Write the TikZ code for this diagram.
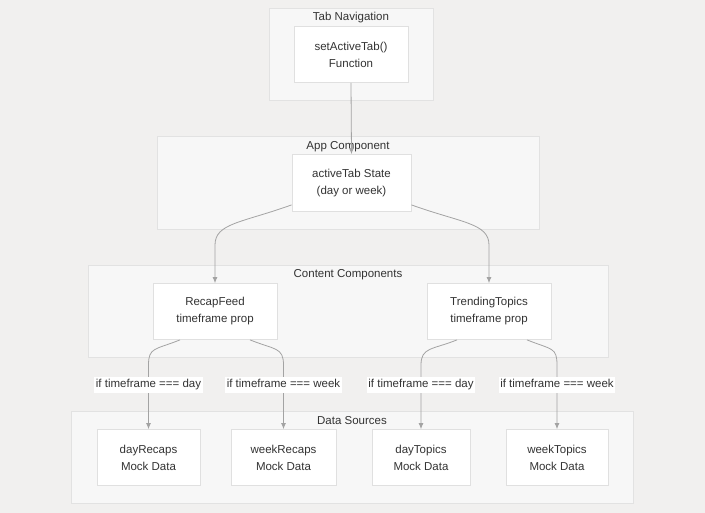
\documentclass[tikz,border=0pt]{standalone}
\usepackage{fontspec}
\setmainfont{Liberation Sans}
\usetikzlibrary{arrows.meta,calc}
\definecolor{bgcol}{HTML}{F1F0EF}
\definecolor{grpfill}{HTML}{F7F7F7}
\definecolor{grpline}{HTML}{E2E2E2}
\definecolor{boxline}{HTML}{E0E0E0}
\definecolor{edgecol}{HTML}{A3A3A3}
\definecolor{txt}{HTML}{333333}

\begin{document}
\begin{tikzpicture}[x=1pt,y=-1pt,
	font=\fontsize{11.5}{17}\selectfont,
	box/.style={draw=boxline, fill=white, line width=0.8pt, align=center, text=txt, inner sep=0pt, minimum height=56},
	group/.style={draw=grpline, fill=grpfill, line width=0.8pt},
	title/.style={text=txt, inner sep=0pt},
	edge/.style={draw=edgecol, line width=0.8pt, -{Latex[length=6pt,width=5pt]}},
	lbl/.style={fill=white, text=txt, inner xsep=1.5pt, inner ysep=2.5pt, text height=8.5pt, text depth=2.5pt}]
	%\draw[step=10,color=gray] (0,0) grid (705,513);
	\fill[bgcol] (0,0) rectangle (705,513);
	\useasboundingbox (0,0) rectangle (705,513);

	% groups
	\draw[group] (269,8) rectangle (433,100);
	\node[title] (navtitle) at (351,17.5) {Tab Navigation};
	\draw[group] (157,136) rectangle (539,229);
	\node[title] (apptitle) at (348,146.5) {App Component};
	\draw[group] (88,265) rectangle (608,357);
	\node[title] (contenttitle) at (348,274.5) {Content Components};
	\draw[group] (71,411) rectangle (633,503);
	\node[title] (datatitle) at (352,420.5) {Data Sources};

	% nodes
	\node[box, minimum width=114] (tabfn) at (351,54.5) {setActiveTab()\\Function};
	\node[box, minimum width=119, minimum height=57] (state) at (351.5,183) {activeTab State\\(day or week)};
	\node[box, minimum width=124] (recap) at (215,311.5) {RecapFeed\\timeframe prop};
	\node[box, minimum width=124] (trend) at (489,311.5) {TrendingTopics\\timeframe prop};
	\node[box, minimum width=103] (dayrecaps) at (148.5,457.5) {dayRecaps\\Mock Data};
	\node[box, minimum width=105] (weekrecaps) at (283.5,457.5) {weekRecaps\\Mock Data};
	\node[box, minimum width=98] (daytopics) at (421,457.5) {dayTopics\\Mock Data};
	\node[box, minimum width=102] (weektopics) at (557,457.5) {weekTopics\\Mock Data};

	% edges
	\draw[edge] (tabfn.south) -- (state.north);
	\draw[edge] ($(state.south west)+(0,-7)$) .. controls +(-50,18) and +(0,-22) .. ($(recap.north)+(0,-38)$) -- (recap.north);
	\draw[edge] ($(state.south east)+(0,-7)$) .. controls +(50,18) and +(0,-22) .. ($(trend.north)+(0,-38)$) -- (trend.north);

	\draw[edge] ($(recap.south)+(-35,0)$) .. controls +(-25,10) and +(0,-18) .. ($(dayrecaps.north)+(0,-64)$) -- node[lbl, pos=0.31] {if timeframe === day} (dayrecaps.north);
	\draw[edge] ($(recap.south)+(35,0)$) .. controls +(25,10) and +(0,-18) .. ($(weekrecaps.north)+(0,-64)$) -- node[lbl, pos=0.31] {if timeframe === week} (weekrecaps.north);
	\draw[edge] ($(trend.south)+(-32,0)$) .. controls +(-25,10) and +(0,-18) .. ($(daytopics.north)+(0,-64)$) -- node[lbl, pos=0.31] {if timeframe === day} (daytopics.north);
	\draw[edge] ($(trend.south)+(38,0)$) .. controls +(25,10) and +(0,-18) .. ($(weektopics.north)+(0,-64)$) -- node[lbl, pos=0.31] {if timeframe === week} (weektopics.north);
\end{tikzpicture}
\end{document}
